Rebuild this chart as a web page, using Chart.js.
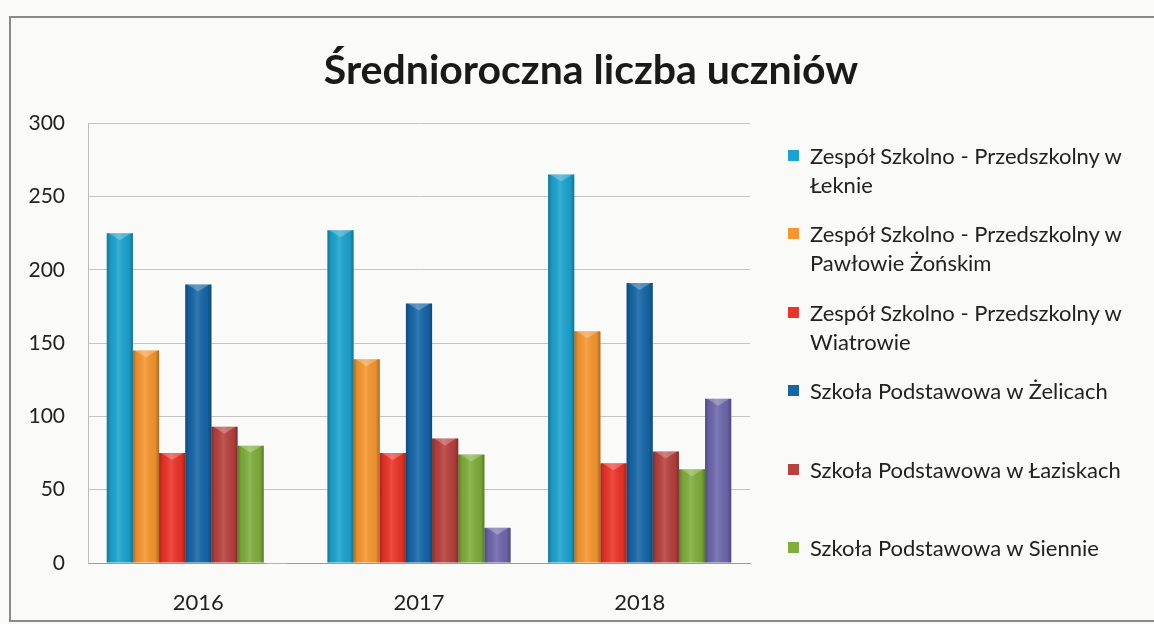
<!DOCTYPE html>
<html lang="pl">
<head>
<meta charset="utf-8">
<script src="https://cdn.jsdelivr.net/npm/chart.js@4/dist/chart.umd.min.js"></script>
<style>
    html, body { margin: 0; padding: 0; background: #fafaf8; }
    #wrap { position: relative; width: 1154px; height: 624px; overflow: hidden; }
    #frame { position: absolute; left: 9px; top: 16px; right: -4px; bottom: 2px; border: 2px solid #8a8a8a; }
    #chart { position: absolute; left: 0; top: 0; }
    #legend { position: absolute; left: 786px; top: 141px; font-family: Lato, sans-serif; font-size: 22px; color: #222; }
    .item { position: relative; height: 78.4px; padding-left: 24px; width: 335px; line-height: 29px; }
    .item span.box { position: absolute; left: 2px; top: 9px; width: 11px; height: 11px; }
</style>
</head>
<body>
<div id="wrap">
    <div id="frame"></div>
    <canvas id="chart" width="1154" height="624"></canvas>
    <div id="legend"></div>
</div>
<script>
    const years = ['2016', '2017', '2018'];

    const schools = [
        'Zespół Szkolno - Przedszkolny w Łeknie',
        'Zespół Szkolno - Przedszkolny w Pawłowie Żońskim',
        'Zespół Szkolno - Przedszkolny w Wiatrowie',
        'Szkoła Podstawowa w Żelicach',
        'Szkoła Podstawowa w Łaziskach',
        'Szkoła Podstawowa w Siennie',
        'Seria 7'
    ];

    const lekno = [225, 227, 265];
    const pawlowo = [145, 139, 158];
    const wiatrowo = [75, 75, 68];
    const zelice = [190, 177, 191];
    const laziska = [93, 85, 76];
    const sienno = [80, 74, 64];
    // 7th series is not listed in the (cut off) legend
    const seria7 = [null, 24, 112];

    const colors = ['#1ba3cf', '#f7962f', '#ec3327', '#1566a8', '#b8403d', '#7fae3b', '#6d67ad'];

    const yMin = 0, yMax = 300, yStep = 50;

    const series = [lekno, pawlowo, wiatrowo, zelice, laziska, sienno, seria7];

    // soft shading across each bar, like the original 3D bars
    const shading = {
        id: 'shading',
        afterDatasetsDraw(chart) {
            const ctx = chart.ctx;
            chart.data.datasets.forEach((ds, i) => {
                const meta = chart.getDatasetMeta(i);
                meta.data.forEach(bar => {
                    if (bar.y == null || isNaN(bar.y)) return;
                    const left = bar.x - bar.width / 2;
                    const right = bar.x + bar.width / 2;
                    const g = ctx.createLinearGradient(left, 0, right, 0);
                    g.addColorStop(0, 'rgba(0,0,0,0.28)');
                    g.addColorStop(0.15, 'rgba(0,0,0,0.05)');
                    g.addColorStop(0.45, 'rgba(255,255,255,0.12)');
                    g.addColorStop(0.85, 'rgba(0,0,0,0.05)');
                    g.addColorStop(1, 'rgba(0,0,0,0.3)');
                    ctx.save();
                    ctx.fillStyle = g;
                    ctx.fillRect(left, bar.y, bar.width, bar.base - bar.y);
                    // light bevel on top
                    ctx.fillStyle = 'rgba(255,255,255,0.25)';
                    ctx.beginPath();
                    ctx.moveTo(left + 2, bar.y);
                    ctx.lineTo(right - 2, bar.y);
                    ctx.lineTo(bar.x, bar.y + 7);
                    ctx.closePath();
                    ctx.fill();
                    ctx.restore();
                });
            });
        }
    };

    const chart = new Chart(document.getElementById('chart'), {
        type: 'bar',
        data: {
            labels: years,
            datasets: series.map((values, i) => ({
                label: schools[i],
                data: values,
                backgroundColor: colors[i],
                borderWidth: 0,
                barPercentage: 1,
                categoryPercentage: 0.83
            }))
        },
        options: {
            responsive: false,
            animation: false,
            layout: { padding: { left: 28, right: 0, top: 0, bottom: 0 } },
            plugins: {
                legend: { display: false },
                tooltip: { enabled: false },
                title: {
                    display: true,
                    text: 'Średnioroczna liczba uczniów',
                    color: '#1a1a1a',
                    font: { family: 'Lato', size: 41, weight: 'bold' },
                    padding: { top: 46, bottom: 28 }
                }
            },
            scales: {
                x: {
                    afterFit(scale) { scale.height = 61; },
                    grid: { display: false, drawTicks: false },
                    border: { color: '#9a9a9a' },
                    ticks: { color: '#222', font: { family: 'Lato', size: 22 }, padding: 27 }
                },
                y: {
                    min: yMin,
                    max: yMax,
                    afterFit(scale) { scale.width = 60; },
                    grid: { color: '#c4c4c4', drawTicks: false },
                    border: { color: '#bdbdbd' },
                    ticks: { stepSize: yStep, color: '#222', font: { family: 'Lato', size: 21 }, padding: 23 }
                },
                // empty axis that keeps room for the legend on the right
                room: {
                    position: 'right',
                    afterFit(scale) { scale.width = 404; },
                    grid: { display: false },
                    border: { display: false },
                    ticks: { display: false }
                }
            }
        },
        plugins: [shading]
    });

    // legend with wrapped labels (only the first six series are shown, as in the original)
    const legend = document.getElementById('legend');
    schools.slice(0, 6).forEach((name, i) => {
        const item = document.createElement('div');
        item.className = 'item';
        const box = document.createElement('span');
        box.className = 'box';
        box.style.background = colors[i];
        item.appendChild(box);
        item.appendChild(document.createTextNode(name));
        legend.appendChild(item);
    });
</script>
</body>
</html>
